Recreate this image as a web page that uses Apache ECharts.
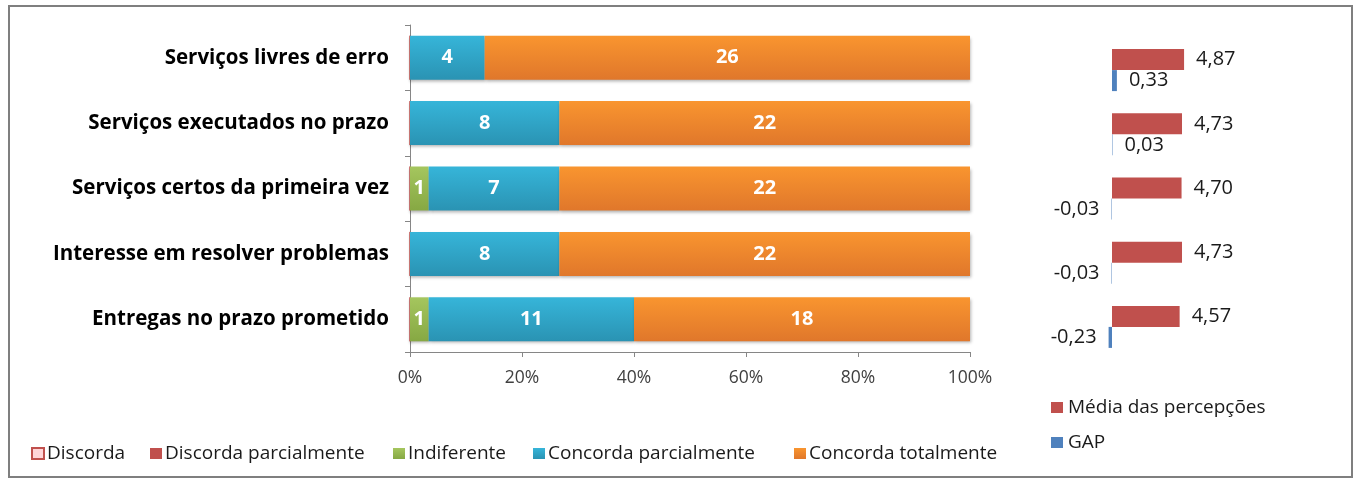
<!DOCTYPE html>
<html><head><meta charset="utf-8">
<script src="https://cdn.jsdelivr.net/npm/echarts@6/dist/echarts.min.js"></script>
<style>html,body{margin:0;padding:0;background:#fff}#c{width:1368px;height:480px}</style>
</head><body><div id="c"></div>
<script>
const categories = ['Serviços livres de erro','Serviços executados no prazo','Serviços certos da primeira vez','Interesse em resolver problemas','Entregas no prazo prometido'];
const discorda = [0,0,0,0,0];
const discordaParcialmente = [0,0,0,0,0];
const indiferente = [0,0,1,0,1];
const concordaParcialmente = [4,8,7,8,11];
const concordaTotalmente = [26,22,22,22,18];
const mediaPercepcoes = [4.87,4.73,4.70,4.73,4.57];
const gap = [0.33,0.03,-0.03,-0.03,-0.23];
const percentTicks = [0,20,40,60,80,100];

const totals = categories.map((c,i)=>discorda[i]+discordaParcialmente[i]+indiferente[i]+concordaParcialmente[i]+concordaTotalmente[i]);
const pct = arr => arr.map((v,i)=>({value: v/totals[i]*100, count: v}));
const grad = (a,b) => new echarts.graphic.LinearGradient(0,0,0,1,[{offset:0,color:a},{offset:1,color:b}]);
const fmt = v => v.toFixed(2).replace('.',',');
const LF = '"Open Sans", sans-serif';

const stackLabel = {show:true, position:'inside', color:'#fff', fontWeight:'bold', fontSize:20, fontFamily:LF,
  formatter: p => p.data.count ? String(p.data.count) : ''};
const shadow = {shadowBlur:3, shadowOffsetY:2, shadowOffsetX:1, shadowColor:'rgba(0,0,0,0.3)'};

function stackSeries(name, arr, style){
  return {name, type:'bar', stack:'s', xAxisIndex:0, yAxisIndex:0, barWidth:44,
    data: pct(arr), label: stackLabel, itemStyle: Object.assign({}, shadow, style)};
}

const leftLegendNames = ['Discorda','Discorda parcialmente','Indiferente','Concorda parcialmente','Concorda totalmente'];
const leftLegendX = [26,145,388,528,789];
const legends = leftLegendNames.map((n,i)=>({data:[n], left:leftLegendX[i], top:439, itemWidth:12, itemHeight:11,
  icon:'rect', textStyle:{fontSize:19, fontFamily:LF, color:'#1a1a1a', padding:[0,0,0,-2]}}));
legends.push({data:['Média das percepções','GAP'], orient:'vertical', left:1046, top:393, itemWidth:12, itemHeight:11, itemGap:16,
  icon:'rect', textStyle:{fontSize:19, fontFamily:LF, color:'#1a1a1a'}});

const option = {
  animation:false,
  backgroundColor:'#fff',
  legend: legends,
  graphic:[{type:'rect', shape:{x:9, y:6, width:1343, height:471}, style:{fill:'none', stroke:'#7f7f7f', lineWidth:2}, silent:true}],
  grid:[
    {left:410, top:25, width:560, height:327},
    {left:1038, top:38, width:222, height:321}
  ],
  xAxis:[
    {type:'value', gridIndex:0, min:0, max:100, interval:20, splitLine:{show:false},
     axisLine:{show:true, lineStyle:{color:'#868686'}}, axisTick:{show:true, length:5, lineStyle:{color:'#868686'}},
     axisLabel:{formatter:'{value}%', fontSize:17.5, fontFamily:LF, color:'#404040', margin:17}},
    {type:'value', gridIndex:1, min:-5, max:10, show:false}
  ],
  yAxis:[
    {type:'category', gridIndex:0, data:categories, inverse:true,
     axisLine:{show:true, lineStyle:{color:'#868686'}}, axisTick:{show:true, length:5, lineStyle:{color:'#868686'}},
     axisLabel:{fontSize:20.5, fontWeight:'bold', fontFamily:LF, color:'#000', margin:21}},
    {type:'category', gridIndex:1, data:categories, inverse:true, show:false}
  ],
  series:[
    stackSeries('Discorda', discorda, {color:'#FFD5D8', borderColor:'#C0504D', borderWidth:1}),
    stackSeries('Discorda parcialmente', discordaParcialmente, {color:'#C0504D'}),
    stackSeries('Indiferente', indiferente, {color:grad('#A5C65E','#86A843')}),
    stackSeries('Concorda parcialmente', concordaParcialmente, {color:grad('#36B5D9','#2A93B3')}),
    stackSeries('Concorda totalmente', concordaTotalmente, {color:grad('#F9952F','#E0772B')}),
    {name:'Média das percepções', type:'bar', xAxisIndex:1, yAxisIndex:1, barWidth:21, barGap:'0%',
     data: mediaPercepcoes, itemStyle:{color:'#C0504D'},
     label:{show:true, position:'right', distance:12, fontSize:20, fontFamily:LF, color:'#1a1a1a', formatter:p=>fmt(p.value)}},
    {name:'GAP', type:'bar', xAxisIndex:1, yAxisIndex:1, barWidth:21, barGap:'0%',
     data: gap.map(v=>({value:v, label:{position: v<0?'left':'right'}})), itemStyle:{color:'#4F81BD'},
     label:{show:true, distance:12, fontSize:20, fontFamily:LF, color:'#1a1a1a', formatter:p=>fmt(p.value)}}
  ]
};
const chart = echarts.init(document.getElementById('c'), null, {renderer:'canvas'});
chart.setOption(option);
</script></body></html>
